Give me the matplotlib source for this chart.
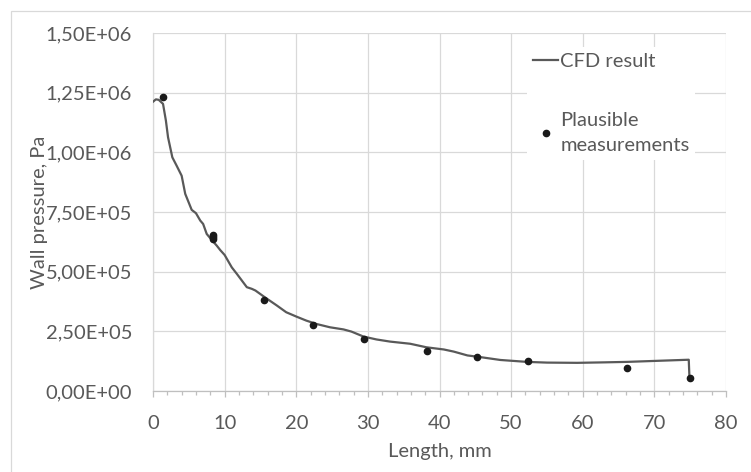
import matplotlib
matplotlib.use("Agg")
import matplotlib.pyplot as plt
from matplotlib.ticker import MultipleLocator, FuncFormatter
from matplotlib.patches import Rectangle

# CFD wall pressure along the nozzle length
cfd_x = [0.0, 0.4, 0.8, 1.4, 1.8, 2.1, 2.7, 3.3, 4.0, 4.5, 5.4, 6.0, 6.6, 7.0,
         7.5, 8.2, 8.9, 9.4, 10.0, 11.0, 11.7, 13.1, 13.8, 14.3, 15.6, 17.3,
         18.6, 20.0, 21.4, 22.8, 24.7, 26.6, 27.7, 29.4, 31.2, 33.1, 35.9,
         38.2, 40.6, 42.0, 43.9, 45.7, 48.5, 52.2, 55.0, 59.2, 63.0, 66.2,
         70.0, 74.8, 74.9]
cfd_p = [1.212e6, 1.222e6, 1.220e6, 1.203e6, 1.133e6, 1.063e6, 0.979e6,
         0.944e6, 0.902e6, 0.826e6, 0.759e6, 0.745e6, 0.714e6, 0.700e6,
         0.658e6, 0.633e6, 0.609e6, 0.590e6, 0.570e6, 0.518e6, 0.491e6,
         0.435e6, 0.428e6, 0.421e6, 0.393e6, 0.358e6, 0.330e6, 0.312e6,
         0.295e6, 0.281e6, 0.267e6, 0.258e6, 0.249e6, 0.228e6, 0.216e6,
         0.207e6, 0.198e6, 0.183e6, 0.174e6, 0.165e6, 0.149e6, 0.142e6,
         0.130e6, 0.122e6, 0.119e6, 0.118e6, 0.120e6, 0.122e6, 0.126e6,
         0.131e6, 0.054e6]

# Measured wall pressures
meas_x = [1.4, 8.4, 8.4, 8.4, 15.5, 22.4, 29.4, 38.2, 45.2, 52.3, 66.2, 75.0]
meas_p = [1.230e6, 0.655e6, 0.645e6, 0.635e6, 0.383e6, 0.278e6, 0.216e6,
          0.167e6, 0.143e6, 0.124e6, 0.098e6, 0.054e6]

TEXT = "#595959"
GRID = "#d9d9d9"
FS = 14.5

plt.rcParams["font.family"] = ["Lato", "DejaVu Sans"]
plt.rcParams["font.size"] = FS

fig = plt.figure(figsize=(7.51, 4.72), dpi=100)
W, H = 751, 472
ax = fig.add_axes([153 / W, 1 - 391 / H, (726 - 153) / W, (391 - 33) / H])

# outer chart border
fig.patches.append(Rectangle((11 / W, -0.1), 1.2, 1 - 11 / H + 0.1,
                             transform=fig.transFigure, fill=False,
                             edgecolor=GRID, linewidth=0.9))

ax.plot(cfd_x, cfd_p, color="#595959", linewidth=1.6, label="CFD result",
        zorder=3)
ax.plot(meas_x, meas_p, linestyle="none", marker="o", markersize=4.5,
        color="#1a1a1a", label="Plausible\nmeasurements", zorder=4)

ax.set_xlim(0, 80)
ax.set_ylim(0, 1.5e6)
ax.xaxis.set_major_locator(MultipleLocator(10))
ax.xaxis.set_minor_locator(MultipleLocator(2))
ax.yaxis.set_major_locator(MultipleLocator(2.5e5))
ax.yaxis.set_major_formatter(
    FuncFormatter(lambda v, _: f"{v:.2E}".replace(".", ",")))

ax.grid(True, which="major", color=GRID, linewidth=0.9)
ax.set_axisbelow(True)
for side in ("top", "right"):
    ax.spines[side].set_visible(False)
ax.spines["left"].set_color(GRID)
ax.spines["bottom"].set_color("#bfbfbf")
ax.spines["left"].set_linewidth(0.9)
ax.spines["bottom"].set_linewidth(0.9)

ax.tick_params(axis="y", length=0, pad=15, colors=TEXT, labelsize=FS)
ax.tick_params(axis="x", which="major", length=4.5, width=0.9,
               color="#bfbfbf", pad=13, labelcolor=TEXT, labelsize=FS)
ax.tick_params(axis="x", which="minor", length=3, width=0.9, color="#bfbfbf")

ax.set_xlabel("Length, mm", color=TEXT, fontsize=FS, labelpad=8)
ax.set_ylabel("Wall pressure, Pa", color=TEXT, fontsize=FS, labelpad=-2)

leg = ax.legend(loc="upper left", bbox_to_anchor=(0.635, 0.99),
                frameon=True, facecolor="white", edgecolor="none",
                framealpha=1, fancybox=False, handlelength=1.25,
                handletextpad=0.1, labelspacing=2.1, fontsize=FS,
                borderpad=0.3)
for t in leg.get_texts():
    t.set_color(TEXT)
    t.set_linespacing(1.55)

fig.savefig("out.png", dpi=100)
